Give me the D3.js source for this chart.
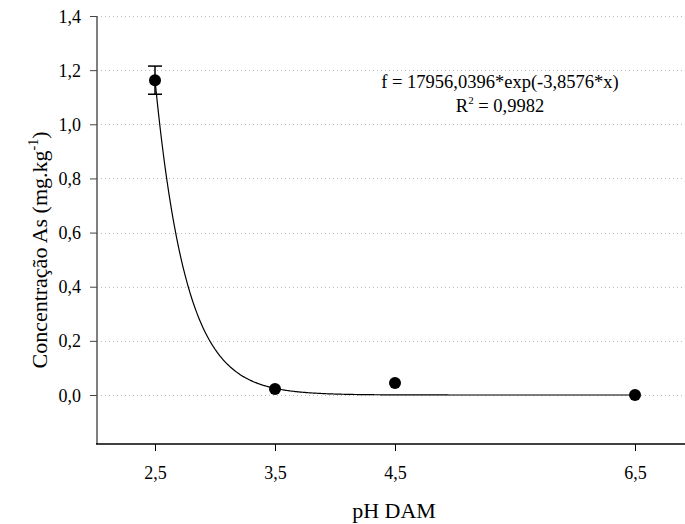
<!DOCTYPE html>
<html>
<head>
<meta charset="utf-8">
<script src="https://cdn.jsdelivr.net/npm/d3@7.9.0/dist/d3.min.js"></script>
<style>
  body { margin: 0; background: #fff; }
</style>
</head>
<body>
<svg id="chart" width="685" height="524"></svg>
<script>
// Data
const phValues = [2.5, 3.5, 4.5, 6.5];
const concentration = [1.163, 0.022, 0.044, 0.0];
const errorBar = [0.052, 0, 0, 0];
const xTicks = [2.5, 3.5, 4.5, 6.5];
const yTicks = [0, 0.2, 0.4, 0.6, 0.8, 1.0, 1.2, 1.4];
// fitted model shown in the chart: f = a*exp(b*x)
const fitCoef = [17956.0396, -3.8576];

const fontName = 'Liberation Serif';
const svg = d3.select('#chart');
const plotLeft = 97, plotTop = 16, plotBottom = 444;

// x: 2.5 -> 155, 6.5 -> 635
const x = d3.scaleLinear().domain([2.5, 6.5]).range([155, 635]);
const y = d3.scaleLinear().domain([0, 1.4]).range([395, 16]);

const fmt = d => d3.format('.1f')(d).replace('.', ',');

// grid lines
svg.append('g')
  .selectAll('line')
  .data(yTicks)
  .join('line')
  .attr('x1', plotLeft)
  .attr('x2', 685)
  .attr('y1', d => Math.round(y(d)) + 0.5)
  .attr('y2', d => Math.round(y(d)) + 0.5)
  .attr('stroke', '#bbb')
  .attr('stroke-width', 1)
  .attr('stroke-dasharray', '1,3');

// y axis
const yAxis = svg.append('g')
  .attr('transform', `translate(${plotLeft},0)`)
  .call(d3.axisLeft(y).tickValues(yTicks).tickFormat(fmt).tickSize(7).tickSizeOuter(0));
yAxis.attr('font-family', fontName).attr('font-size', 18);
yAxis.select('.domain').remove();
yAxis.append('line')
  .attr('x1', 0).attr('x2', 0)
  .attr('y1', plotTop).attr('y2', plotBottom)
  .attr('stroke', '#555').attr('stroke-width', 1.5);
yAxis.selectAll('.tick line').attr('stroke', '#444');
yAxis.selectAll('.tick text')
  .attr('fill', '#000')
  .attr('x', -16)
  .attr('dy', '0.34em');

// x axis
const xAxis = svg.append('g')
  .attr('transform', `translate(0,${plotBottom})`)
  .call(d3.axisBottom(x).tickValues(xTicks).tickFormat(fmt).tickSize(7).tickSizeOuter(0));
xAxis.attr('font-family', fontName).attr('font-size', 18);
xAxis.select('.domain').remove();
xAxis.append('line')
  .attr('x1', plotLeft - 1).attr('x2', 685)
  .attr('y1', 0).attr('y2', 0)
  .attr('stroke', '#000').attr('stroke-width', 1.5);
xAxis.selectAll('.tick line').attr('stroke', '#000');
xAxis.selectAll('.tick text')
  .attr('fill', '#000')
  .attr('dy', 0)
  .attr('y', 35);

// fitted curve
const curveX = d3.range(2.5, 6.5001, 0.01);
const line = d3.line()
  .x(d => x(d))
  .y(d => y(fitCoef[0] * Math.exp(fitCoef[1] * d)));
svg.append('path')
  .datum(curveX)
  .attr('d', line)
  .attr('fill', 'none')
  .attr('stroke', '#000')
  .attr('stroke-width', 1.2);

const points = phValues.map((p, i) => ({ x: p, y: concentration[i], e: errorBar[i] }));

// error bars
const eb = svg.append('g')
  .selectAll('g')
  .data(points.filter(d => d.e > 0))
  .join('g')
  .attr('stroke', '#000')
  .attr('stroke-width', 1.5);
eb.append('line')
  .attr('x1', d => x(d.x)).attr('x2', d => x(d.x))
  .attr('y1', d => y(d.y + d.e)).attr('y2', d => y(d.y - d.e));
eb.append('line')
  .attr('x1', d => x(d.x) - 7).attr('x2', d => x(d.x) + 7)
  .attr('y1', d => y(d.y + d.e)).attr('y2', d => y(d.y + d.e));
eb.append('line')
  .attr('x1', d => x(d.x) - 7).attr('x2', d => x(d.x) + 7)
  .attr('y1', d => y(d.y - d.e)).attr('y2', d => y(d.y - d.e));

// points
svg.append('g')
  .selectAll('circle')
  .data(points)
  .join('circle')
  .attr('cx', d => x(d.x))
  .attr('cy', d => y(d.y))
  .attr('r', 6)
  .attr('fill', '#000');

// equation
svg.append('text')
  .attr('x', 500).attr('y', 88)
  .attr('text-anchor', 'middle')
  .attr('font-family', fontName)
  .attr('font-size', 18.5)
  .text('f = 17956,0396*exp(-3,8576*x)');
const r2 = svg.append('text')
  .attr('x', 500).attr('y', 112)
  .attr('text-anchor', 'middle')
  .attr('font-family', fontName)
  .attr('font-size', 18.5);
r2.append('tspan').text('R');
r2.append('tspan').attr('font-size', 11).attr('dy', -8).text('2');
r2.append('tspan').attr('dy', 8).text(' = 0,9982');

// axis titles
svg.append('text')
  .attr('x', 394).attr('y', 518)
  .attr('text-anchor', 'middle')
  .attr('font-family', fontName)
  .attr('font-size', 22)
  .text('pH DAM');

const yt = svg.append('text')
  .attr('transform', 'translate(47,250) rotate(-90)')
  .attr('text-anchor', 'middle')
  .attr('font-family', fontName)
  .attr('font-size', 22);
yt.append('tspan').text('Concentração As (mg.kg');
yt.append('tspan').attr('font-size', 14).attr('dy', -9).text('-1');
yt.append('tspan').attr('dy', 9).text(')');
</script>
</body>
</html>
